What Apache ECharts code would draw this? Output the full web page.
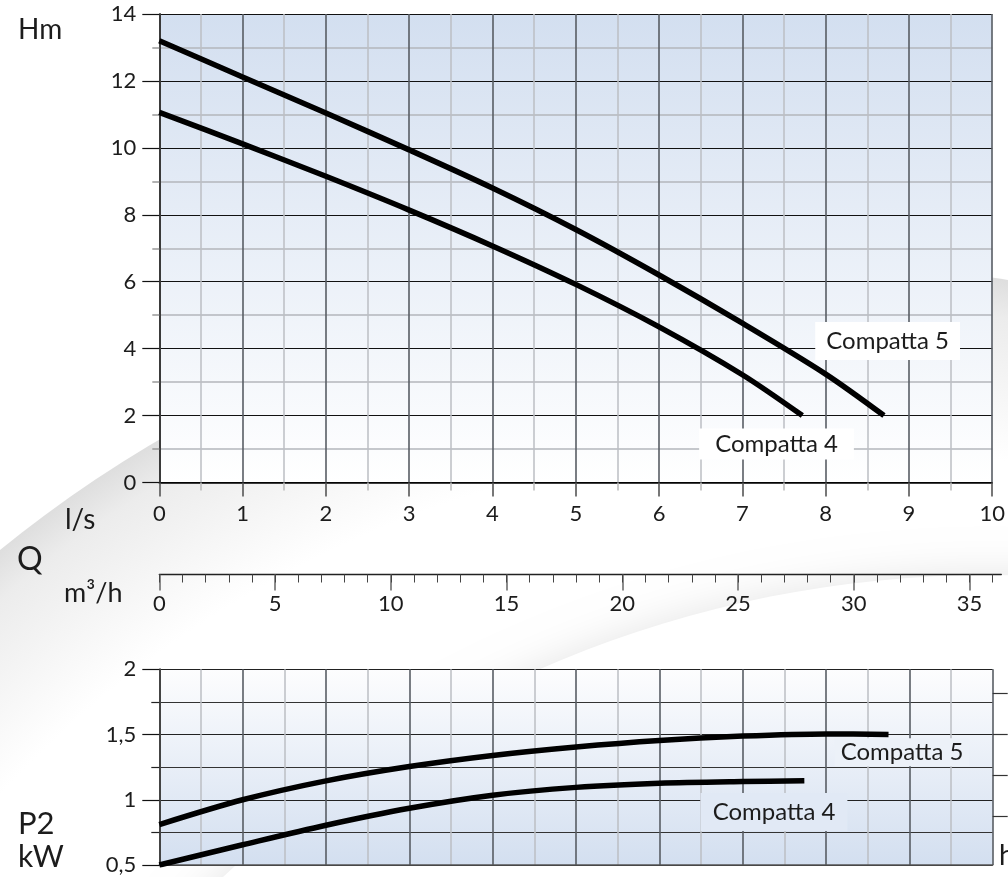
<!DOCTYPE html>
<html>
<head>
<meta charset="utf-8">
<script src="https://cdn.jsdelivr.net/npm/echarts@6/dist/echarts.min.js"></script>
<style>
html,body{margin:0;padding:0;background:#fff;}
#chart{width:1008px;height:877px;}
</style>
</head>
<body>
<div id="chart"></div>
<script>
// ---- data ----
// Head curves H (m) vs flow Q (l/s)
const qHeadC5 = [0, 1, 2, 3, 4, 5, 6, 7, 8, 8.7];
const headC5  = [13.2, 12.12, 11.04, 9.94, 8.8, 7.56, 6.2, 4.76, 3.24, 2.0];
const qHeadC4 = [0, 1, 2, 3, 4, 5, 6, 7, 7.72];
const headC4  = [11.06, 10.12, 9.15, 8.14, 7.07, 5.92, 4.65, 3.22, 2.0];
// Power curves P2 (kW) vs flow Q (l/s)
const qPowC5 = [0, 1, 2, 3, 4, 5, 6, 7, 8, 8.75];
const powC5  = [0.81, 1.0, 1.145, 1.255, 1.34, 1.405, 1.455, 1.488, 1.505, 1.5];
const qPowC4 = [0, 1, 2, 3, 4, 5, 6, 7, 7.74];
const powC4  = [0.5, 0.655, 0.805, 0.935, 1.035, 1.095, 1.127, 1.14, 1.145];
// Curve names and label anchors (data units)
const seriesNames = ['Compatta 5', 'Compatta 4'];
const headLabelAt = [[8.744, 4.229], [7.41, 1.15]];
const powLabelAt  = [[8.912, 1.365], [7.376, 0.906]];
// Secondary power scale ticks (right edge, in kW)
const hpTickKW = [0.877, 1.189, 1.5, 1.815];
// Axis ranges / tick labels
const lpsRange = [0, 10], lpsStep = 1;
const m3hMax = 36, m3hLineMax = 36.36;
const m3hTicks = [0, 5, 10, 15, 20, 25, 30, 35];
const headRange = [0, 14], headStep = 2;
const powRange = [0.5, 2], powStep = 0.5;

const zip = (a, b) => a.map((v, i) => [v, b[i]]);
const FONT = 'Lato';
const txt = '#1c1c1c';
const TICK_FS = 22;

const chart = echarts.init(document.getElementById('chart'), null, {renderer: 'canvas'});

function lbl(name, coord, bg, pad) {
  return {
    symbol: 'rect', symbolSize: [1, 1], silent: true,
    itemStyle: {color: 'rgba(0,0,0,0)'},
    label: {show: true, position: 'inside', formatter: p => p.name,
      color: txt, fontSize: 24, fontFamily: FONT, backgroundColor: bg, padding: pad},
    data: [{name: name, coord: coord}]
  };
}

const vMajor = {show: true, lineStyle: {color: '#585d64', width: 1.6}};
const vMinor = {show: true, lineStyle: {color: '#bcbfc4', width: 1.5}};
const qGrid = {left: 159.3, top: 500, width: 833.4, height: 74.5, show: false};

const option = {
  animation: false,
  backgroundColor: '#ffffff',
  grid: [
    {left: 159.3, top: 14, width: 833.4, height: 468.5, show: true, borderWidth: 0,
     backgroundColor: new echarts.graphic.LinearGradient(0, 0, 0, 1, [
       {offset: 0, color: '#d3dff0'}, {offset: 1, color: '#ffffff'}])},
    Object.assign({}, qGrid),
    Object.assign({}, qGrid),
    {left: 159.3, top: 500, width: 842, height: 74.5, show: false},
    {left: 159.3, top: 669.3, width: 833.4, height: 195.7, show: true, borderWidth: 0,
     backgroundColor: new echarts.graphic.LinearGradient(0, 0, 0, 1, [
       {offset: 0, color: '#fdfdfe'}, {offset: 1, color: '#d3dff0'}])}
  ],
  xAxis: [
    {gridIndex: 0, type: 'value', min: lpsRange[0], max: lpsRange[1], interval: lpsStep,
     axisLine: {show: true, onZero: false, lineStyle: {color: '#000', width: 1.5}},
     axisTick: {show: true, length: 14, lineStyle: {color: '#555', width: 1.6}},
     minorTick: {show: true, splitNumber: 2, length: 8, lineStyle: {color: '#bbb', width: 1.5}},
     splitLine: vMajor, minorSplitLine: vMinor,
     axisLabel: {fontSize: TICK_FS, margin: 20, color: txt, fontFamily: FONT}},
    {gridIndex: 1, type: 'value', min: 0, max: m3hMax, interval: 5,
     axisLine: {show: false},
     axisTick: {show: true, length: 16, customValues: m3hTicks, lineStyle: {color: '#666', width: 1.5}},
     splitLine: {show: false},
     axisLabel: {fontSize: TICK_FS, margin: 18, color: txt, fontFamily: FONT, customValues: m3hTicks}},
    {gridIndex: 2, type: 'value', min: 0, max: m3hMax, interval: 1,
     axisLine: {show: false},
     axisTick: {show: true, length: 8, lineStyle: {color: '#444', width: 1}},
     axisLabel: {show: false}, splitLine: {show: false}},
    {gridIndex: 3, type: 'value', min: 0, max: m3hLineMax,
     axisLine: {show: true, onZero: false, lineStyle: {color: '#222', width: 1.3}},
     axisTick: {show: false}, axisLabel: {show: false}, splitLine: {show: false}},
    {gridIndex: 4, type: 'value', min: lpsRange[0], max: lpsRange[1], interval: lpsStep,
     axisLine: {show: true, onZero: false, lineStyle: {color: '#555', width: 1.5}},
     axisTick: {show: false}, axisLabel: {show: false},
     splitLine: vMajor, minorTick: {show: false, splitNumber: 2}, minorSplitLine: vMinor}
  ],
  yAxis: [
    {gridIndex: 0, type: 'value', min: headRange[0], max: headRange[1], interval: headStep,
     axisLine: {show: true, lineStyle: {color: '#3a3a3a', width: 2}},
     axisTick: {show: true, length: 17, lineStyle: {color: '#111', width: 1.2}},
     minorTick: {show: true, splitNumber: 2, length: 7, lineStyle: {color: '#999', width: 1.5}},
     splitLine: {show: true, lineStyle: {color: '#111', width: 1.1}},
     minorSplitLine: {show: true, lineStyle: {color: '#b3b6bb', width: 1.6}},
     axisLabel: {fontSize: TICK_FS, margin: 23, color: txt, fontFamily: FONT}},
    {gridIndex: 1, type: 'value', show: false},
    {gridIndex: 2, type: 'value', show: false},
    {gridIndex: 3, type: 'value', show: false},
    {gridIndex: 4, type: 'value', min: powRange[0], max: powRange[1], interval: powStep,
     axisLine: {show: true, lineStyle: {color: '#444', width: 2}},
     axisTick: {show: true, length: 17, lineStyle: {color: '#111', width: 1.2}},
     minorTick: {show: true, splitNumber: 2, length: 8, lineStyle: {color: '#222', width: 1.2}},
     splitLine: {show: true, lineStyle: {color: '#222', width: 1.2}},
     minorSplitLine: {show: true, lineStyle: {color: '#333', width: 1.2}},
     axisLabel: {fontSize: TICK_FS, margin: 23, color: txt, fontFamily: FONT,
       formatter: v => String(v).replace('.', ',')}},
    {gridIndex: 4, type: 'value', position: 'right', min: powRange[0], max: powRange[1],
     axisLine: {show: false}, axisLabel: {show: false}, splitLine: {show: false},
     axisTick: {show: true, length: 15, customValues: hpTickKW, lineStyle: {color: '#333', width: 1.2}}}
  ],
  series: [
    {type: 'line', name: seriesNames[0], xAxisIndex: 0, yAxisIndex: 0, data: zip(qHeadC5, headC5),
     smooth: 0.3, symbol: 'none', lineStyle: {color: '#000', width: 5.5}, z: 3,
     markPoint: lbl(seriesNames[0], headLabelAt[0], '#ffffff', [7, 11, 7, 11])},
    {type: 'line', name: seriesNames[1], xAxisIndex: 0, yAxisIndex: 0, data: zip(qHeadC4, headC4),
     smooth: 0.3, symbol: 'none', lineStyle: {color: '#000', width: 5.5}, z: 3,
     markPoint: lbl(seriesNames[1], headLabelAt[1], '#ffffff', [4, 16, 3, 16])},
    {type: 'line', name: seriesNames[0] + ' P2', xAxisIndex: 4, yAxisIndex: 4, data: zip(qPowC5, powC5),
     smooth: 0.3, symbol: 'none', lineStyle: {color: '#000', width: 5.5}, z: 3,
     markPoint: lbl(seriesNames[0], powLabelAt[0], '#ecf1f8', [2, 6, 2, 6])},
    {type: 'line', name: seriesNames[1] + ' P2', xAxisIndex: 4, yAxisIndex: 4, data: zip(qPowC4, powC4),
     smooth: 0.3, symbol: 'none', lineStyle: {color: '#000', width: 5.5}, z: 3,
     markPoint: lbl(seriesNames[1], powLabelAt[1], '#e1e9f5', [7, 12, 7, 12])}
  ],
  graphic: [
    // decorative background swoosh
    {type: 'circle', z: -20, silent: true, shape: {cx: 806, cy: 1543, r: 1279},
     style: {fill: new echarts.graphic.RadialGradient(806, 1543, 1279, [
       {offset: 0, color: '#ffffff'}, {offset: 0.86, color: '#ffffff'},
       {offset: 0.97, color: '#ececec'}, {offset: 1, color: '#dedede'}], true)}},
    {type: 'circle', z: -19, silent: true, shape: {cx: 990, cy: 1700, r: 1125},
     style: {fill: '#ffffff', shadowColor: 'rgba(0,0,0,0.10)', shadowBlur: 40}},
    {type: 'text', left: 18, top: 16, style: {text: 'Hm', fontSize: 28, fontFamily: FONT, fill: txt}},
    {type: 'text', left: 65, top: 506, style: {text: 'l/s', fontSize: 28, fontFamily: FONT, fill: txt}},
    {type: 'text', left: 17, top: 544, style: {text: 'Q', fontSize: 32, fontFamily: FONT, fill: txt}},
    {type: 'text', left: 64, top: 580, style: {text: 'm³/h', fontSize: 27, fontFamily: FONT, fill: txt}},
    {type: 'text', left: 18, top: 808, style: {text: 'P2', fontSize: 31, fontFamily: FONT, fill: txt}},
    {type: 'text', left: 18, top: 842, style: {text: 'kW', fontSize: 30, fontFamily: FONT, fill: txt}},
    {type: 'text', left: 999, top: 842, style: {text: 'hp', fontSize: 28, fontFamily: FONT, fill: txt}}
  ]
};
chart.setOption(option);
</script>
</body>
</html>
